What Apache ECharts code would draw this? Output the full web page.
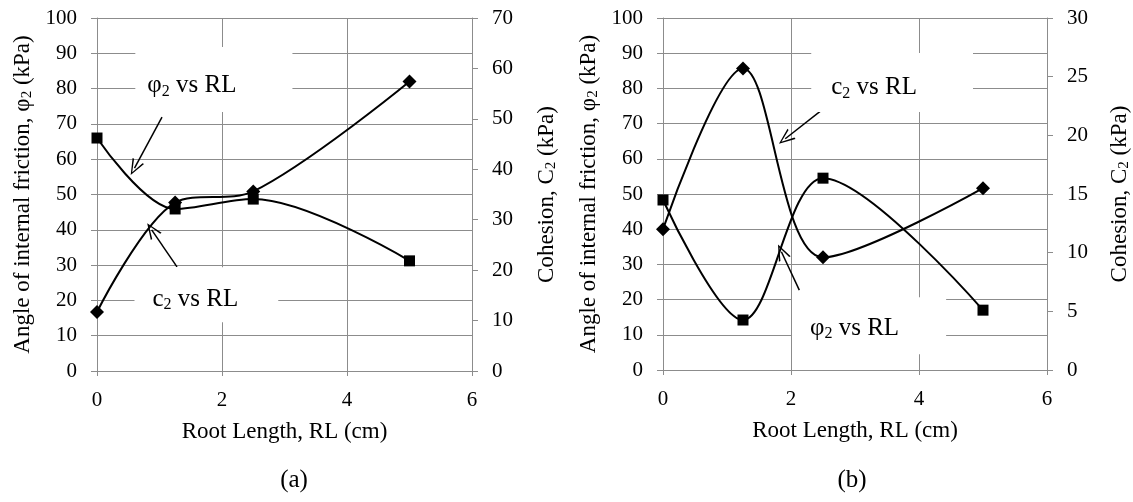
<!DOCTYPE html>
<html>
<head>
<meta charset="utf-8">
<script src="https://cdn.jsdelivr.net/npm/echarts@6/dist/echarts.min.js"></script>
<style>
  html, body { margin: 0; padding: 0; background: #fff; }
  #chart { width: 1133px; height: 502px; }
</style>
</head>
<body>
<div id="chart"></div>
<script>
// root length (cm)
var rootLength = [0, 1.25, 2.5, 5];
// (a) friction angle on left axis, cohesion on right axis
var phiA = [66.0, 45.9, 48.7, 31.2];
var cohA = [11.7, 33.4, 35.6, 57.4];
// (b)
var phiB = [48.3, 14.2, 54.5, 17.0];
var cohB = [12.0, 25.7, 9.6, 15.5];

var xTicks = [0, 2, 4, 6];
var leftTicks = [0, 100, 10];
var rightTicksA = [0, 70, 10];
var rightTicksB = [0, 30, 5];

var FONT = "Liberation Serif";
var GRID = "#8c8c8c";
var SMOOTH = 0.33;

function pairs(xs, ys) {
  return xs.map(function (x, i) { return [x, ys[i]]; });
}

var arrowHead = "path://M50,0 L100,100 L87,100 L50,20 L13,100 L0,100 Z";

// text box label, coord = centre of the white box (left axis units)
function note(text, coord, pad) {
  return {
    coord: coord,
    symbol: "rect",
    symbolSize: 1,
    itemStyle: { color: "rgba(0,0,0,0)" },
    label: {
      show: true,
      position: "inside",
      formatter: text,
      backgroundColor: "#fff",
      padding: pad,
      lineHeight: 28,
      color: "#000",
      fontFamily: FONT,
      fontSize: 25,
      rich: {
        s: { fontFamily: FONT, fontSize: 16, color: "#000", lineHeight: 28, verticalAlign: "bottom", padding: [12, 0, 0, 0] }
      }
    }
  };
}

function arrow(from, to) {
  return [
    { coord: from, symbol: "none" },
    { coord: to, symbol: arrowHead, symbolSize: [13, 16] }
  ];
}

function xAxis(idx) {
  return {
    type: "value",
    gridIndex: idx,
    min: xTicks[0], max: xTicks[xTicks.length - 1], interval: 2,
    name: "Root Length, RL (cm)",
    nameLocation: "middle",
    nameGap: 49,
    nameTextStyle: { fontFamily: FONT, fontSize: 23, color: "#000" },
    axisLine: { show: true, lineStyle: { color: GRID, width: 1 } },
    axisTick: { show: true, length: 5, lineStyle: { color: GRID } },
    axisLabel: { fontFamily: FONT, fontSize: 21, color: "#000", margin: 19 },
    splitLine: { show: true, lineStyle: { color: GRID, width: 1 } }
  };
}

function yAxis(idx, pos, ticks, name, gap) {
  return {
    type: "value",
    gridIndex: idx,
    position: pos,
    min: ticks[0], max: ticks[1], interval: ticks[2],
    name: name,
    nameLocation: "middle",
    nameRotate: 90,
    nameGap: gap,
    nameTextStyle: {
      fontFamily: FONT, fontSize: 23, color: "#000",
      rich: { s: { fontFamily: FONT, fontSize: 15, color: "#000", verticalAlign: "bottom", padding: [10, 0, 0, 0] } }
    },
    axisLine: { show: true, lineStyle: { color: GRID, width: 1 } },
    axisTick: { show: true, length: 6, lineStyle: { color: GRID } },
    axisLabel: { fontFamily: FONT, fontSize: 21, color: "#000", margin: 20 },
    splitLine: { show: pos === "left", lineStyle: { color: GRID, width: 1 } }
  };
}

var lineStyle = { color: "#000", width: 2 };
var arrowLine = { color: "#000", width: 1.5, type: "solid" };

var option = {
  animation: false,
  backgroundColor: "#fff",
  grid: [
    { left: 97, right: 661, top: 18, bottom: 131 },
    { left: 663, right: 85, top: 18, bottom: 132 }
  ],
  xAxis: [xAxis(0), xAxis(1)],
  yAxis: [
    yAxis(0, "left", leftTicks, "Angle of internal friction, φ{s|2} (kPa)", 62),
    yAxis(0, "right", rightTicksA, "Cohesion, C{s|2} (kPa)", 62),
    yAxis(1, "left", leftTicks, "Angle of internal friction, φ{s|2} (kPa)", 62),
    yAxis(1, "right", rightTicksB, "Cohesion, C{s|2} (kPa)", 60)
  ],
  series: [
    {
      name: "φ2 (a)", type: "line", xAxisIndex: 0, yAxisIndex: 0,
      data: pairs(rootLength, phiA), smooth: SMOOTH,
      symbol: "rect", symbolSize: 11,
      lineStyle: lineStyle, itemStyle: { color: "#000" },
      markPoint: {
        silent: true,
        data: [
          note("φ{s|2} vs RL", [1.87, 82.6], [25, 56, 12, 12]),
          note("c{s|2} vs RL", [1.75, 21.6], [18, 40, 9, 18])
        ]
      },
      markLine: {
        silent: true,
        label: { show: false },
        lineStyle: arrowLine,
        data: [
          arrow([1.04, 71.9], [0.60, 57.5]),
          arrow([1.28, 29.5], [0.875, 40.0])
        ]
      }
    },
    {
      name: "c2 (a)", type: "line", xAxisIndex: 0, yAxisIndex: 1,
      data: pairs(rootLength, cohA), smooth: SMOOTH,
      symbol: "diamond", symbolSize: 14,
      lineStyle: lineStyle, itemStyle: { color: "#000" }
    },
    {
      name: "φ2 (b)", type: "line", xAxisIndex: 1, yAxisIndex: 2,
      data: pairs(rootLength, phiB), smooth: SMOOTH,
      symbol: "rect", symbolSize: 11,
      lineStyle: lineStyle, itemStyle: { color: "#000" },
      markPoint: {
        silent: true,
        data: [
          note("c{s|2} vs RL", [3.58, 81.7], [21, 56, 10, 20]),
          note("φ{s|2} vs RL", [3.22, 12.6], [17, 47, 12, 18])
        ]
      },
      markLine: {
        silent: true,
        label: { show: false },
        lineStyle: arrowLine,
        data: [
          arrow([2.52, 74.4], [1.91, 65.7]),
          arrow([2.13, 22.7], [1.85, 33.6])
        ]
      }
    },
    {
      name: "c2 (b)", type: "line", xAxisIndex: 1, yAxisIndex: 3,
      data: pairs(rootLength, cohB), smooth: SMOOTH,
      symbol: "diamond", symbolSize: 14,
      lineStyle: lineStyle, itemStyle: { color: "#000" }
    }
  ],
  graphic: [
    { type: "text", x: 294, y: 480, style: { text: "(a)", font: "25px " + FONT, fill: "#000", textAlign: "center", textVerticalAlign: "middle" } },
    { type: "text", x: 852, y: 480, style: { text: "(b)", font: "25px " + FONT, fill: "#000", textAlign: "center", textVerticalAlign: "middle" } }
  ]
};

var chart = echarts.init(document.getElementById("chart"));
chart.setOption(option);
</script>
</body>
</html>
